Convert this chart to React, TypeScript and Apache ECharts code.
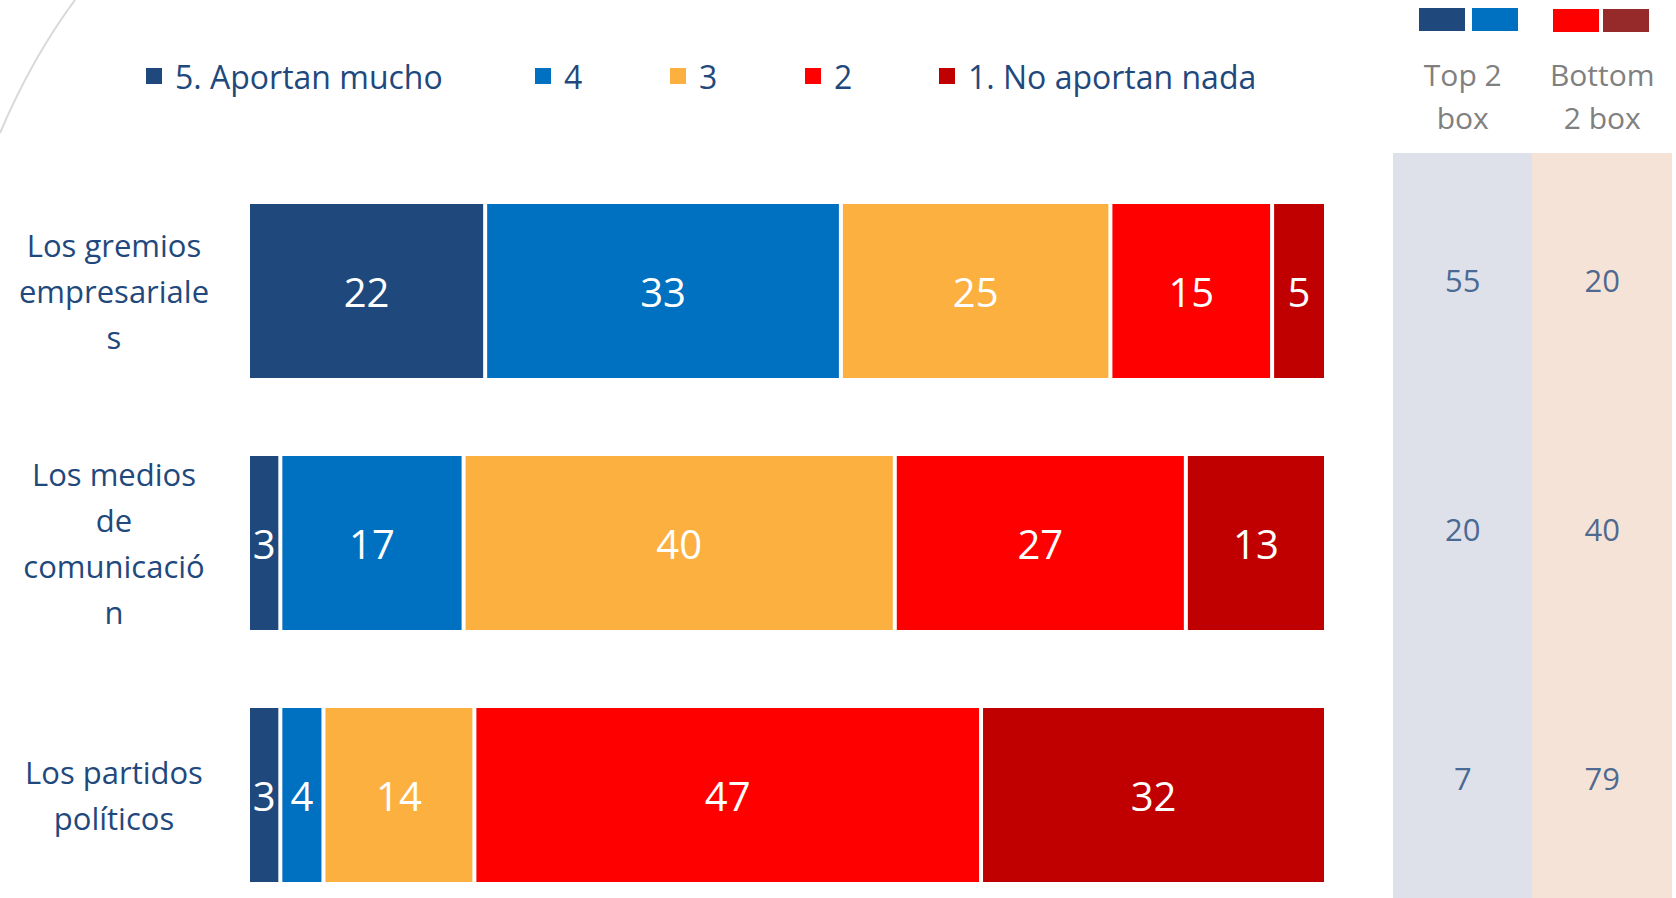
import React, { useEffect, useRef } from "react";
import * as echarts from "echarts";

const categories = [
  "Los gremios\nempresariale\ns",
  "Los medios\nde\ncomunicació\nn",
  "Los partidos\npolíticos",
];
const seriesNames = ["5. Aportan mucho", "4", "3", "2", "1. No aportan nada"];
const s5 = [22, 3, 3];
const s4 = [33, 17, 4];
const s3 = [25, 40, 14];
const s2 = [15, 27, 47];
const s1 = [5, 13, 32];
const top2 = [55, 20, 7];
const bottom2 = [20, 40, 79];
const boxHeaders = ["Top 2\nbox", "Bottom\n2 box"];

const colors = ["#1F497D", "#0070C0", "#FBB040", "#FF0000", "#C00000"];
const FONT = "Open Sans";
const DARK = "#1F497D";

export default function App() {
  const ref = useRef<HTMLDivElement>(null);
  useEffect(() => {
    if (!ref.current) return;
    const chart = echarts.init(ref.current, null, { renderer: "svg" });
    const values = [s5, s4, s3, s2, s1];
    const legendLefts = [144, 533, 668, 803, 937];
    const option: any = {
      animation: false,
      textStyle: { fontFamily: FONT },
      legend: seriesNames.map((n, i) => ({
        data: [n],
        left: legendLefts[i],
        top: 57,
        padding: 0,
        icon: "rect",
        itemWidth: 18,
        itemHeight: 18,
        selectedMode: false,
        textStyle: {
          fontFamily: FONT,
          fontSize: 32,
          lineHeight: 38,
          color: DARK,
          padding: [0, 0, 0, 7],
        },
      })),
      grid: [
        { left: 248, top: 291, width: 1078, height: 504 },
        { left: 1393, top: 280, width: 279, height: 498 },
      ],
      xAxis: [
        { type: "value", gridIndex: 0, min: 0, max: 100, show: false },
        {
          type: "category",
          gridIndex: 1,
          position: "top",
          data: boxHeaders,
          axisLine: { show: false },
          axisTick: { show: false },
          axisLabel: {
            color: "#808080",
            fontFamily: FONT,
            fontSize: 30,
            lineHeight: 43,
            margin: 141,
          },
        },
      ],
      yAxis: [
        {
          type: "category",
          gridIndex: 0,
          data: categories,
          inverse: true,
          boundaryGap: false,
          axisLine: { show: false },
          axisTick: { show: false },
          axisLabel: {
            align: "center",
            margin: 134,
            color: DARK,
            fontFamily: FONT,
            fontSize: 31,
            lineHeight: 46,
          },
        },
        {
          type: "category",
          gridIndex: 1,
          data: categories,
          inverse: true,
          boundaryGap: false,
          show: false,
        },
      ],
      series: [
        ...seriesNames.map((n, i) => ({
          name: n,
          type: "bar",
          stack: "total",
          xAxisIndex: 0,
          yAxisIndex: 0,
          data: values[i],
          barWidth: 178,
          clip: false,
          itemStyle: { color: colors[i], borderColor: "#fff", borderWidth: 2 },
          label: {
            show: true,
            position: "inside",
            color: "#fff",
            fontFamily: FONT,
            fontSize: 40,
            formatter: "{c}",
          },
        })),
        {
          name: "box",
          type: "scatter",
          xAxisIndex: 1,
          yAxisIndex: 1,
          symbolSize: 1,
          clip: false,
          itemStyle: { color: "rgba(0,0,0,0)" },
          data: [
            ...top2.map((v, i) => [0, i, v]),
            ...bottom2.map((v, i) => [1, i, v]),
          ],
          label: {
            show: true,
            position: "inside",
            color: DARK,
            fontFamily: FONT,
            fontSize: 31,
            formatter: (p: any) => String(p.value[2]),
          },
        },
      ],
      graphic: [
        { type: "rect", z: -10, shape: { x: 1393, y: 153, width: 139, height: 745 }, style: { fill: "#DEE0EA" } },
        { type: "rect", z: -10, shape: { x: 1532, y: 153, width: 140, height: 745 }, style: { fill: "#F6E3D7" } },
        {
          type: "bezierCurve",
          shape: { x1: 75, y1: 0, x2: 0, y2: 133, cpx1: 32, cpy1: 58 },
          style: { stroke: "#D9D9D9", lineWidth: 2, fill: "none" },
        },
        { type: "rect", shape: { x: 1419, y: 8, width: 46, height: 23 }, style: { fill: "#1F497D" } },
        { type: "rect", shape: { x: 1472, y: 8, width: 46, height: 23 }, style: { fill: "#0070C0" } },
        { type: "rect", shape: { x: 1553, y: 9, width: 46, height: 23 }, style: { fill: "#FF0000" } },
        { type: "rect", shape: { x: 1603, y: 9, width: 46, height: 23 }, style: { fill: "#962A2A" } },
      ],
    };
    chart.setOption(option);
    return () => chart.dispose();
  }, []);
  return (
    <div
      ref={ref}
      style={{ position: "absolute", left: 0, top: 0, width: 1676, height: 898 }}
    />
  );
}
